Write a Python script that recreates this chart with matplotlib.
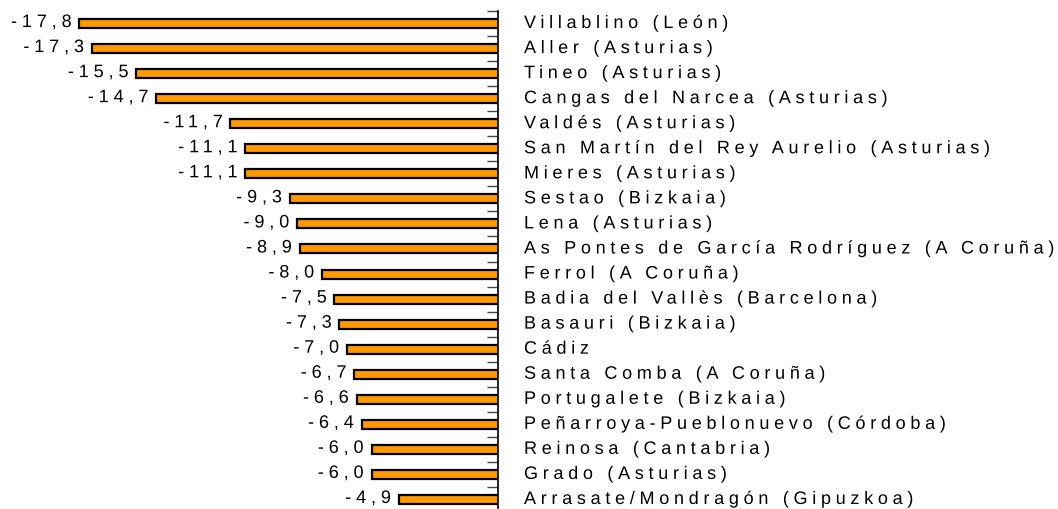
import numpy as np
import matplotlib
matplotlib.use("Agg")
import matplotlib.pyplot as plt
from matplotlib import patheffects, transforms
from matplotlib.path import Path

plt.rcParams['font.family'] = ['Liberation Sans', 'DejaVu Sans']

municipios = [
    "Villablino (León)",
    "Aller (Asturias)",
    "Tineo (Asturias)",
    "Cangas del Narcea (Asturias)",
    "Valdés (Asturias)",
    "San Martín del Rey Aurelio (Asturias)",
    "Mieres (Asturias)",
    "Sestao (Bizkaia)",
    "Lena (Asturias)",
    "As Pontes de García Rodríguez (A Coruña)",
    "Ferrol (A Coruña)",
    "Badia del Vallès (Barcelona)",
    "Basauri (Bizkaia)",
    "Cádiz",
    "Santa Comba (A Coruña)",
    "Portugalete (Bizkaia)",
    "Peñarroya-Pueblonuevo (Córdoba)",
    "Reinosa (Cantabria)",
    "Grado (Asturias)",
    "Arrasate/Mondragón (Gipuzkoa)",
]
variacion = [-17.8, -17.3, -15.5, -14.7, -11.7, -11.1, -11.1, -9.3, -9.0, -8.9,
             -8.0, -7.5, -7.3, -7.0, -6.7, -6.6, -6.4, -6.0, -6.0, -4.9]


class Tracking(patheffects.AbstractPathEffect):
    """
    wide letter spacing: moves every glyph of the text path apart
    :param track: extra space per glyph, in text path units (1 em = 100)
    :param anchor: "left" keeps the first glyph, "right" the last one
    :param space_steps: extra steps given to a word space
    """
    def __init__(self, track, anchor="left", space_steps=0):
        super().__init__()
        self.track = track
        self.anchor = anchor
        self.space_steps = space_steps

    def draw_path(self, renderer, gc, tpath, affine, rgbFace=None):
        codes = tpath.codes
        if codes is None or len(tpath.vertices) == 0:
            renderer.draw_path(gc, tpath, affine, rgbFace)
            return
        verts = np.array(tpath.vertices, dtype=float)
        starts = np.flatnonzero(codes == Path.MOVETO)
        ends = np.append(starts[1:], len(verts))
        parts = []
        for s, e in zip(starts, ends):
            xs = verts[s:e, 0][codes[s:e] != Path.CLOSEPOLY]
            parts.append((xs.min(), xs.max(), s, e))
        parts.sort(key=lambda p: p[0] + p[1])
        # contours of one glyph (o, é, i, ñ) share the same x range
        groups = []
        for x0, x1, s, e in parts:
            c = (x0 + x1) / 2
            if groups:
                g = groups[-1]
                if g[0] <= c <= g[1] or x0 <= (g[0] + g[1]) / 2 <= x1:
                    g[0] = min(g[0], x0)
                    g[1] = max(g[1], x1)
                    g[2].append((s, e))
                    continue
            groups.append([x0, x1, [(s, e)]])
        steps = [0]
        for a, b in zip(groups[:-1], groups[1:]):
            k = 1
            if b[0] - a[1] > 22:
                k += self.space_steps
            steps.append(steps[-1] + k)
        last = steps[-1]
        for g, n in zip(groups, steps):
            shift = self.track * (n if self.anchor == "left" else n - last)
            for s, e in g[2]:
                verts[s:e, 0] += shift
        renderer.draw_path(gc, Path(verts, codes), affine, rgbFace)


W, H = 1058, 509
fig = plt.figure(figsize=(W / 100, H / 100), dpi=100)
ax = fig.add_axes([0, -3 / H, 498 / W, 501 / H])

y = np.arange(len(municipios))
ax.barh(y, variacion, height=0.36, color="#FF9900", edgecolor="black",
        linewidth=1.6)

for yi, v in zip(y, variacion):
    ax.text(v - 0.33, yi - 0.04, ("%.1f" % v).replace(".", ","), ha="right",
            va="center", fontsize=13, color="black",
            path_effects=[Tracking(27, anchor="right")])

# municipality names right of the axis line
name_tr = transforms.offset_copy(ax.get_yaxis_transform(), fig=fig,
                                 x=26, y=2, units="dots")
for yi, name in zip(y, municipios):
    ax.text(1.0, yi, name, transform=name_tr, ha="left",
            va="center_baseline", fontsize=13, color="black",
            path_effects=[Tracking(26, space_steps=1)])

ax.set_xlim(-21.0, -0.9)
ax.set_ylim(len(municipios) - 0.5, -0.5)

for s in ["left", "top", "bottom"]:
    ax.spines[s].set_visible(False)
ax.spines["right"].set_color("black")
ax.spines["right"].set_linewidth(1.2)

ax.set_xticks([])
ax.yaxis.tick_right()
ax.set_yticks([])
ax.set_yticks(np.arange(len(municipios) + 1) - 0.5, minor=True)
ax.tick_params(axis="y", which="minor", direction="in", length=8,
               width=1, color="#444444")

fig.savefig("out.png", dpi=100)
